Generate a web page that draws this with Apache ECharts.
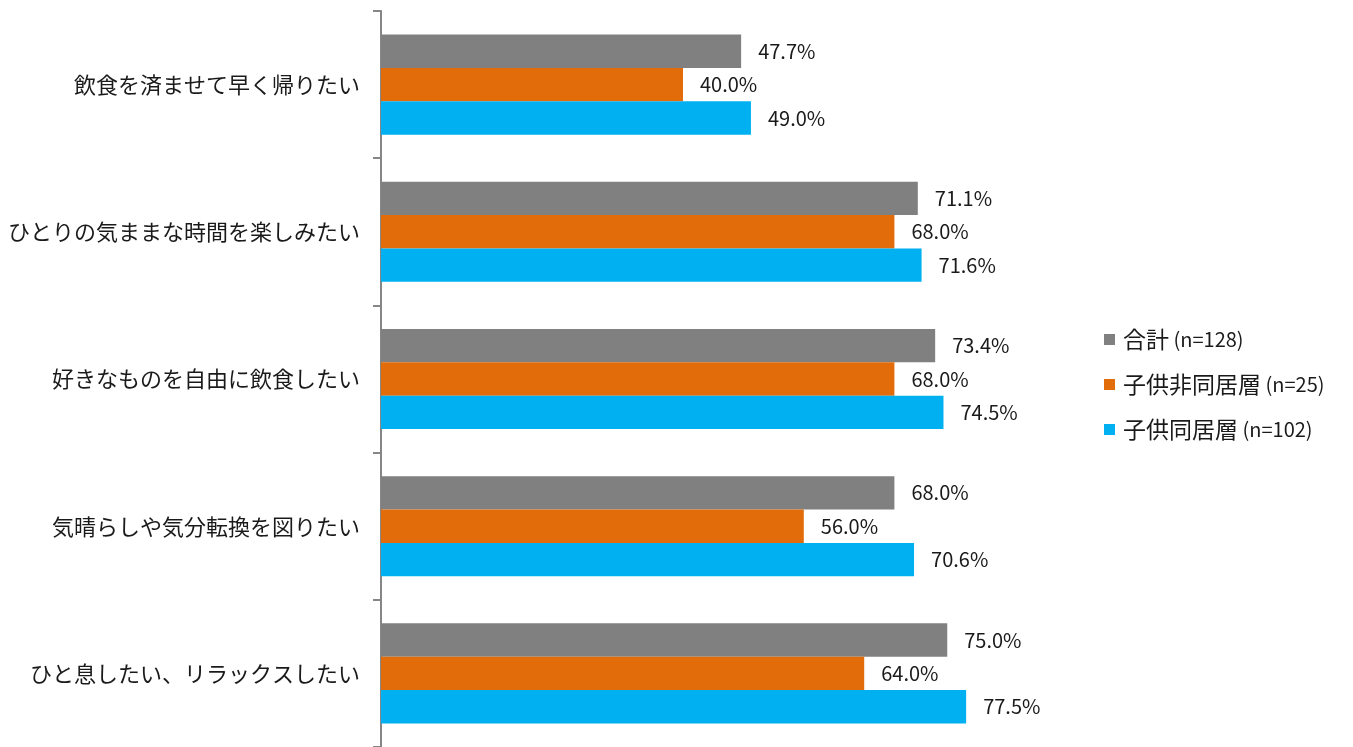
<!DOCTYPE html>
<html><head><meta charset="utf-8">
<script src="https://cdn.jsdelivr.net/npm/echarts@6/dist/echarts.min.js"></script>
<style>html,body{margin:0;padding:0;background:#fff}#c{width:1353px;height:747px}</style>
</head><body><div id="c"></div>
<script>
const categories = ['飲食を済ませて早く帰りたい','ひとりの気ままな時間を楽しみたい','好きなものを自由に飲食したい','気晴らしや気分転換を図りたい','ひと息したい、リラックスしたい'];
const seriesNames = ['合計 (n=128)','子供非同居層 (n=25)','子供同居層 (n=102)'];
const totalVals = [47.7, 71.1, 73.4, 68.0, 75.0];
const noChildVals = [40.0, 68.0, 68.0, 56.0, 64.0];
const childVals = [49.0, 71.6, 74.5, 70.6, 77.5];
const colors = ['#808080','#E36C0A','#00B0F0'];
const font = '"Noto Sans CJK JP", "Noto Sans", sans-serif';
const chart = echarts.init(document.getElementById('c'));
const mk = (name, data, color) => ({
  name, type:'bar', data, barGap:'0%', barCategoryGap:'32%',
  itemStyle:{color},
  label:{show:true, position:'right', distance:17, formatter: p => p.value.toFixed(1)+'%', color:'#1a1a1a', fontSize:20, fontFamily:font}
});
chart.setOption({
  animation:false,
  textStyle:{fontFamily:font},
  grid:{left:381, top:11, width:755, height:740, containLabel:false},
  xAxis:{type:'value', min:0, max:100, show:false},
  yAxis:{type:'category', data:categories, inverse:true,
    axisLine:{lineStyle:{color:'#868686', width:2}},
    axisTick:{show:true, length:8, lineStyle:{color:'#868686', width:2}},
    axisLabel:{color:'#1a1a1a', fontSize:22, margin:21, fontFamily:font}
  },
  legend:{orient:'vertical', left:1104, top:328, padding:0, itemWidth:11, itemHeight:11, itemGap:22, icon:'rect',
    formatter: n => { const i = n.indexOf(' '); return '{j|' + n.slice(0, i) + '}{l| ' + n.slice(i + 1) + '}'; },
    textStyle:{color:'#1a1a1a', fontFamily:font, padding:[0,0,0,3],
      rich:{
        j:{fontSize:23, lineHeight:24, color:'#1a1a1a', fontFamily:font},
        l:{fontSize:20, lineHeight:24, color:'#1a1a1a', fontFamily:font}
      }}},
  series:[mk(seriesNames[0], totalVals, colors[0]), mk(seriesNames[1], noChildVals, colors[1]), mk(seriesNames[2], childVals, colors[2])]
});
</script></body></html>
